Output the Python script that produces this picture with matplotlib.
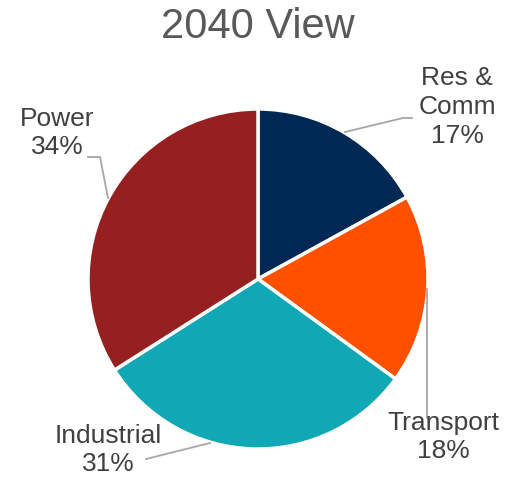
import matplotlib.pyplot as plt

# sector shares in 2040
sectors = ['Res &\nComm', 'Transport', 'Industrial', 'Power']
shares = [17, 18, 31, 34]
colors = ['#002855', '#FF5000', '#10A8B4', '#962020']

plt.rcParams['font.family'] = ['Liberation Sans', 'DejaVu Sans']

W, H = 520, 479
fig = plt.figure(figsize=(W / 100, H / 100), dpi=100)
ax = fig.add_axes([0, 0, 1, 1])

cx, cy, r = 258, H - 279, 170
ax.pie(shares, colors=colors, startangle=90, counterclock=False,
       center=(cx, cy), radius=r,
       wedgeprops={'edgecolor': 'white', 'linewidth': 2.5})

ax.set_xlim(0, W)
ax.set_ylim(0, H)
ax.set_aspect('equal')
ax.axis('off')

# label positions and leader lines (pixel coords from top-left)
label_xy = [(457, 107), (443, 437), (108, 450), (57, 133)]
leaders = [
    [(345, 132), (403, 118), (412, 118)],
    [(427, 289), (427, 418)],
    [(210, 443), (146, 459)],
    [(108, 198), (100, 157), (88, 157)],
]

for name, val, (lx, ly), pts in zip(sectors, shares, label_xy, leaders):
    xs = [p[0] for p in pts]
    ys = [H - p[1] for p in pts]
    ax.plot(xs, ys, color='#A6A6A6', lw=1.3, zorder=1)
    ax.text(lx, H - ly, f'{name}\n{val}%', ha='center', va='center',
            fontsize=19, color='#404040', linespacing=1.25, zorder=3)

ax.text(258, H - 27, '2040 View', ha='center', va='center',
        fontsize=30, color='#595959')

fig.savefig('out.png', dpi=100)
